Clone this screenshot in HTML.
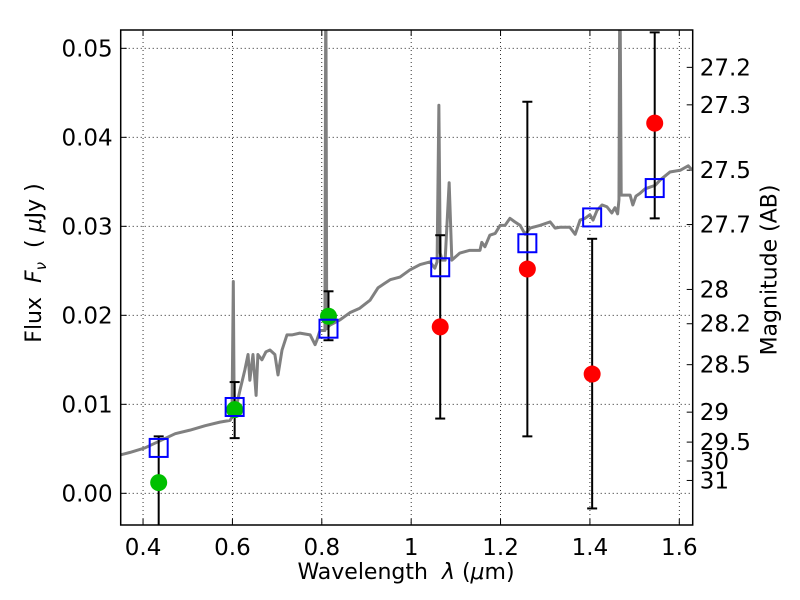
<!DOCTYPE html>
<html><head><meta charset="utf-8"><style>
body{margin:0;background:#fff}
svg{display:block;font-family:"DejaVu Sans","Liberation Sans",sans-serif}
</style></head><body>
<svg id="chart" width="800" height="600"></svg>
<script>
const specLam=[0.348,0.371,0.404,0.438,0.472,0.505,0.539,0.572,0.595,0.599,0.602,0.604,0.608,0.617,0.628,0.635,0.639,0.646,0.653,0.657,0.666,0.675,0.684,0.695,0.702,0.711,0.722,0.733,0.751,0.774,0.785,0.789,0.796,0.807,0.809,0.811,0.818,0.841,0.863,0.885,0.908,0.926,0.941,0.953,0.975,0.997,1.020,1.042,1.053,1.058,1.062,1.065,1.069,1.076,1.085,1.091,1.109,1.131,1.154,1.158,1.165,1.176,1.188,1.199,1.210,1.221,1.232,1.244,1.255,1.266,1.288,1.311,1.322,1.333,1.355,1.367,1.378,1.389,1.400,1.407,1.416,1.427,1.438,1.449,1.456,1.462,1.465,1.467,1.470,1.478,1.490,1.496,1.503,1.512,1.523,1.534,1.546,1.557,1.579,1.602,1.620,1.629];
const specFlux=[0.0043,0.0046,0.0051,0.0059,0.0067,0.0071,0.0076,0.0080,0.0082,0.0086,0.0238,0.0090,0.0096,0.0116,0.0139,0.0156,0.0127,0.0156,0.0110,0.0156,0.0150,0.0159,0.0161,0.0156,0.0133,0.0161,0.0178,0.0178,0.0180,0.0178,0.0167,0.0172,0.0183,0.0183,0.06,0.0185,0.0189,0.0195,0.0203,0.0208,0.0217,0.0231,0.0236,0.0240,0.0243,0.0251,0.0257,0.0260,0.0253,0.0260,0.0436,0.0270,0.0262,0.0262,0.0349,0.0262,0.0270,0.0273,0.0273,0.0282,0.0277,0.0290,0.0292,0.0301,0.0301,0.0309,0.0305,0.0301,0.0291,0.0298,0.0301,0.0305,0.0298,0.0299,0.0299,0.0291,0.0307,0.0309,0.0313,0.0307,0.0318,0.0324,0.0322,0.0315,0.0321,0.0314,0.0330,0.06,0.0335,0.0335,0.0335,0.0324,0.0334,0.0337,0.0342,0.0344,0.0346,0.0352,0.0361,0.0363,0.0368,0.0363];
const bandLam=[0.435,0.605,0.815,1.065,1.26,1.405,1.545];
const obsFlux=[0.0012,0.0094,0.0199,0.0187,0.0252,0.0134,0.0416];
const obsHi=[0.0064,0.0125,0.0227,0.0290,0.0440,0.0286,0.0518];
const obsLo=[-0.006,0.0062,0.0172,0.0084,0.0064,-0.0017,0.0309];
const obsColor=['#00c000','#00c000','#00c000','#ff0000','#ff0000','#ff0000','#ff0000'];
const modelFlux=[0.0051,0.0097,0.0185,0.0254,0.0281,0.0310,0.0343];
const xTicks=[0.4,0.6,0.8,1.0,1.2,1.4,1.6];
const xTickLabels=['0.4','0.6','0.8','1','1.2','1.4','1.6'];
const yTicks=[0,0.01,0.02,0.03,0.04,0.05];
const yTickLabels=['0.00','0.01','0.02','0.03','0.04','0.05'];
const magTicks=[27.2,27.3,27.5,27.7,28,28.2,28.5,29,29.5,30,31];

const L=120.7,R=692.7,T=30,B=525;
const X0=0.35,X1=1.63,Y0=-0.00356,Y1=0.05206;
const sx=v=>L+(v-X0)/(X1-X0)*(R-L);
const sy=v=>B-(v-Y0)/(Y1-Y0)*(B-T);
const svg=document.getElementById('chart');
const NS='http://www.w3.org/2000/svg';
function mk(tag,at,parent){const e=document.createElementNS(NS,tag);for(const k in at)e.setAttribute(k,at[k]);(parent||svg).appendChild(e);return e;}
const defs=mk('defs',{});const cp=mk('clipPath',{id:'clip'},defs);mk('rect',{x:L,y:T,width:R-L,height:B-T},cp);
xTicks.forEach((t,i)=>{
 const g=mk('line',{x1:sx(t),x2:sx(t),y1:T,y2:B,stroke:'#000','stroke-width':0.8,'stroke-dasharray':'1,3'});
 
 mk('line',{x1:sx(t),x2:sx(t),y1:B,y2:B-6,stroke:'#000'});
 mk('line',{x1:sx(t),x2:sx(t),y1:T,y2:T+6,stroke:'#000'});
 const tx=mk('text',{x:sx(t),y:B+30,'font-size':23,'text-anchor':'middle'});tx.textContent=xTickLabels[i];
 
});
yTicks.forEach((t,i)=>{
 const g=mk('line',{x1:L,x2:R,y1:sy(t),y2:sy(t),stroke:'#000','stroke-width':0.8,'stroke-dasharray':'1,3'});
 
 mk('line',{x1:L,x2:L+6,y1:sy(t),y2:sy(t),stroke:'#000'});
 const tx=mk('text',{x:L-8,y:sy(t)+8,'font-size':23,'text-anchor':'end'});tx.textContent=yTickLabels[i];
 
});
magTicks.forEach(m=>{
 const f=Math.pow(10,(23.9-m)/2.5);const y=sy(f);
 mk('line',{x1:R,x2:R-6,y1:y,y2:y,stroke:'#000'});
 const tx=mk('text',{x:R+7,y:y+8,'font-size':23});tx.textContent=String(m);
 
});
const sp=mk('polyline',{points:specLam.map((l,i)=>sx(l)+','+sy(specFlux[i])).join(' '),fill:'none',stroke:'#808080','stroke-width':3,'clip-path':'url(#clip)','stroke-linejoin':'round'});

bandLam.forEach((l,i)=>{
 const x=sx(l);
 const e=mk('g',{'clip-path':'url(#clip)'});
 
 mk('line',{x1:x,x2:x,y1:sy(obsHi[i]),y2:sy(obsLo[i]),stroke:'#000','stroke-width':2},e);
 mk('line',{x1:x-5,x2:x+5,y1:sy(obsHi[i]),y2:sy(obsHi[i]),stroke:'#000','stroke-width':2},e);
 mk('line',{x1:x-5,x2:x+5,y1:sy(obsLo[i]),y2:sy(obsLo[i]),stroke:'#000','stroke-width':2},e);
});
bandLam.forEach((l,i)=>{
 const c=mk('circle',{cx:sx(l),cy:sy(obsFlux[i]),r:8.5,fill:obsColor[i]});
 
});
bandLam.forEach((l,i)=>{
 const r=mk('rect',{x:sx(l)-9,y:sy(modelFlux[i])-9,width:18,height:18,fill:'none',stroke:'#0000ff','stroke-width':2});
 
});
const fr=mk('rect',{x:L,y:T,width:R-L,height:B-T,fill:'none',stroke:'#000','stroke-width':1.5});

</script>
<div style="position:absolute;left:0;top:0;width:800px;height:600px;pointer-events:none;font-family:'DejaVu Sans','Liberation Sans',sans-serif">
<div style="position:absolute;left:406px;top:560px;transform:translateX(-50%);font-size:22px;white-space:nowrap">Wavelength&nbsp; <i>λ</i> (<i>μ</i>m)</div>
<div style="position:absolute;left:36px;top:263px;transform:translate(-50%,-50%) rotate(-90deg);font-size:22px;white-space:nowrap">Flux&nbsp; <i>F</i><sub style="font-size:15px"><i>ν</i></sub>&nbsp; ( <i>μ</i>Jy )</div>
<div style="position:absolute;left:770px;top:270px;transform:translate(-50%,-50%) rotate(-90deg);font-size:22px;white-space:nowrap">Magnitude (AB)</div>
</div>
</body></html>
